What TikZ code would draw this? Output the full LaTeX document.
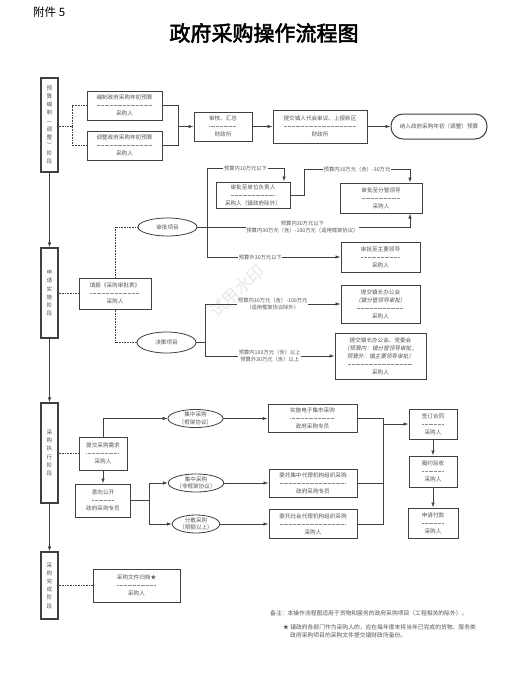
\documentclass[tikz,border=0pt]{standalone}
\usepackage{fontspec}
\setmainfont{Noto Sans CJK SC}[AutoFakeBold=2.5,AutoFakeSlant=0.2]
\usetikzlibrary{arrows.meta,backgrounds,calc,shapes.geometric}
\definecolor{linec}{HTML}{404040}
\definecolor{txt}{HTML}{555555}
\definecolor{sepc}{HTML}{8C8C8C}
\newlength{\dlw}
\newcommand{\dl}[1]{{\color{sepc}\hbox to #1{\leaders\hbox to 1.3pt{\hss\vrule width 0.75pt height 2.6pt depth -2.35pt\hss}\hfill}}}
\newcommand{\pair}[2]{\settowidth{\dlw}{#1}\global\dlw=\dlw #1\\\dl{\dlw}\\#2}
\tikzset{
  stage/.style={draw=linec, line width=1.1pt, fill=white, minimum width=17, inner sep=0pt, align=center, text=txt, font=\fontsize{5.6}{8.2}\selectfont},
  proc/.style={draw=linec, line width=1pt, fill=white, inner sep=0.5pt, align=center, text=txt, font=\fontsize{5.6}{8}\selectfont},
  oval/.style={ellipse, draw=linec, line width=0.8pt, inner sep=0pt, align=center, text=txt, font=\fontsize{5.6}{7.5}\selectfont},
  link/.style={draw=linec, line width=0.8pt},
  arr/.style={link, -{Latex[length=5pt,width=3.5pt]}},
  dots/.style={draw=linec, line width=0.7pt, dash pattern=on 0.8pt off 0.8pt},
  tag/.style={fill=white, inner sep=0.6pt, align=center, text=txt, font=\fontsize{5.3}{7}\selectfont},
  note/.style={anchor=west, inner sep=0pt, text=txt, font=\fontsize{5.8}{8}\selectfont},
}
\begin{document}
\begin{tikzpicture}[x=1pt,y=-1pt]
\useasboundingbox[fill=white] (0,0) rectangle (529,696);
% watermark
\node[rotate=42, text=gray!18, font=\fontsize{17}{17}\selectfont] (wm) at (237,291) {试用水印};
% heading
\node[anchor=west, inner sep=0pt, font=\fontsize{11.5}{12}\selectfont] (att) at (33,12) {附件 5};
\node[font=\fontsize{21}{21}\selectfont\bfseries] (title) at (264,33) {政府采购操作流程图};

% stages
\node[stage, minimum height=94] (s1) at (49.5,125) {预\\算\\编\\制\\︵\\调\\整\\︶\\阶\\段};
\node[stage, minimum height=90] (s2) at (49.5,293) {申\\请\\实\\施\\阶\\段};
\node[stage, minimum height=100] (s3) at (49.5,453) {采\\购\\执\\行\\阶\\段};
\node[stage, minimum height=67] (s4) at (49.5,585.5) {采\\购\\完\\成\\阶\\段};
\draw[arr] (s1) -- (s2);
\draw[arr] (s2) -- (s3);
\draw[arr] (s3) -- (s4);

% budget stage
\node[proc, minimum width=75, minimum height=29] (A) at (124.5,105.5) {\pair{编制政府采购年初预算}{采购人}};
\node[proc, minimum width=75, minimum height=29] (B) at (124.5,145.5) {\pair{调整政府采购年初预算}{采购人}};
\node[proc, minimum width=58, minimum height=29] (C) at (223,126.5) {\pair{审核、汇总}{财政所}};
\node[proc, minimum width=94, minimum height=33] (D) at (320,126.5) {\pair{提交镇人代会审议、上报新区}{财政所}};
\node[proc, rounded corners=12, minimum width=96, minimum height=25] (E) at (439,126.5) {纳入政府采购年初（调整）预算};
\coordinate (j1) at (72,126.5);
\coordinate (j2) at (178,126.5);
\draw[dots] (s1.east |- j1) -- (j1);
\draw[dots] (A.west) -| (j1);
\draw[dots] (B.west) -| (j1);
\draw[link] (A.east) -| (j2);
\draw[link] (B.east) -| (j2);
\draw[arr] (j2) -- (C.west);
\draw[arr] (C) -- (D);
\draw[arr] (D) -- (E);

% application stage
\node[proc, minimum width=72, minimum height=31] (F) at (115,293.5) {\pair{填报《采购审批表》}{采购人}};
\node[oval, minimum width=59, minimum height=18] (e1) at (167.5,227) {审批项目};
\node[oval, minimum width=59, minimum height=21] (e2) at (166.5,342.5) {决策项目};
\draw[dots] (s2.east |- F.west) -- (F.west);
\draw[dots] (F.north) |- (e1.west);
\draw[dots] (F.south) |- (e2.west);

\node[proc, minimum width=74, minimum height=26] (G) at (253,195) {\pair{审批至单位负责人}{采购人（镇政府除外）}};
\node[proc, minimum width=82, minimum height=30] (H) at (381,198) {\pair{审批至分管领导}{采购人}};
\node[proc, minimum width=79, minimum height=30] (I) at (380.5,257) {\pair{审批至主要领导}{采购人}};
\coordinate (b1) at (207,227);
\coordinate (g1) at (284,168);
\coordinate (g2) at (304,169);
\coordinate (h1) at (410,169);
\coordinate (h2) at (410,227);
\draw[link] (e1.east) -- (b1);
\draw[arr] (b1) |- node[tag, pos=0.75] {预算内10万元以下} (g1) -- (g1 |- G.north);
\draw[arr] (b1) |- node[tag, pos=0.7] {预算外30万元以下} (I.west);
\draw[arr] (G.east) -- (G.east -| g2) -- (g2) -- node[tag] {预算内10万元（含）-30万元} (h1) -- (h1 |- H.north);
\draw[arr] (b1) -- node[tag, pos=0.47] {预算内30万元以下\\预算内30万元（含）-100万元（适用框架协议）} (h2) -- (h2 |- H.south);

\node[proc, minimum width=79, minimum height=38] (J) at (380.5,304) {提交镇长办公会\\\itshape（镇分管领导审批）\\\dl{48pt}\\采购人};
\node[proc, minimum width=91, minimum height=46] (K) at (380.5,356) {提交镇长办公会、党委会\\\itshape（预算内：镇分管领导审批；\\\itshape 预算外：镇主要领导审批）\\\dl{66pt}\\采购人};
\coordinate (b2) at (205,342.5);
\draw[link] (e2.east) -- (b2);
\draw[arr] (b2) |- node[tag, pos=0.75] {预算内30万元（含）-100万元\\（适用框架协议除外）} (J.west);
\draw[arr] (b2) |- node[tag, pos=0.75] {预算内100万元（含）以上\\预算外30万元（含）以上} (K.west);

% execution stage
\node[proc, minimum width=48, minimum height=33] (L) at (103,453.5) {\pair{提交采购需求}{采购人}};
\node[proc, minimum width=55, minimum height=33] (O) at (103,500.5) {\pair{意向公开}{政府采购专员}};
\node[oval, minimum width=55, minimum height=17] (M) at (195.5,418.5) {集中采购\\（框架协议）};
\node[oval, minimum width=46, minimum height=18] (P) at (196,483) {集中采购\\（非框架协议）};
\node[oval, minimum width=46, minimum height=18] (Q) at (196,524) {分散采购\\（限额以上）};
\node[proc, minimum width=89, minimum height=28] (N) at (312.5,418.5) {\pair{实施电子集市采购}{政府采购专员}};
\node[proc, minimum width=88, minimum height=28] (R) at (313,483) {\pair{委托集中代理机构组织采购}{政府采购专员}};
\node[proc, minimum width=88, minimum height=29] (S) at (313,524) {\pair{委托社会代理机构组织采购}{采购人}};
\node[proc, minimum width=48, minimum height=30] (T) at (433,424) {\pair{签订合同}{采购人}};
\node[proc, minimum width=48, minimum height=31] (U) at (433,471.5) {\pair{履约验收}{采购人}};
\node[proc, minimum width=50, minimum height=30] (V) at (433,523) {\pair{申请付款}{采购人}};
\draw[dots] (s3.east |- L.west) -- (L.west);
\draw[arr] (L.north) |- (M.west);
\draw[arr] (M) -- (N);
\draw[arr] (L) -- (O);
\coordinate (b3) at (149,500.5);
\draw[link] (O.east) -- (b3);
\draw[arr] (b3) |- (P.west);
\draw[arr] (b3) |- (Q.west);
\draw[arr] (P) -- (R);
\draw[arr] (Q) -- (S);
\coordinate (m1) at (383,418.5);
\draw[link] (N.east) -- (m1) -- (m1 |- S.east) -- (S.east);
\draw[link] (R.east) -- (R.east -| m1);
\draw[arr] (T.west -| m1) -- (T.west);
\draw[arr] (T) -- (U);
\draw[arr] (U) -- (V);

% completion stage
\node[proc, minimum width=87, minimum height=33] (W) at (136.5,585.5) {\pair{采购文件归档★}{采购人}};
\draw[dots] (s4.east |- W.west) -- (W.west);

% notes
\node[note] (n1) at (270,613) {备注：本操作流程图适用于货物和服务的政府采购项目（工程相关的除外）。};
\node[note] (n2) at (283,627) {★ 镇政府各部门作为采购人的，应在每年度末将当年已完成的货物、服务类};
\node[note] (n3) at (290,635.5) {政府采购项目的采购文件提交镇财政所备份。};
\end{tikzpicture}
\end{document}
